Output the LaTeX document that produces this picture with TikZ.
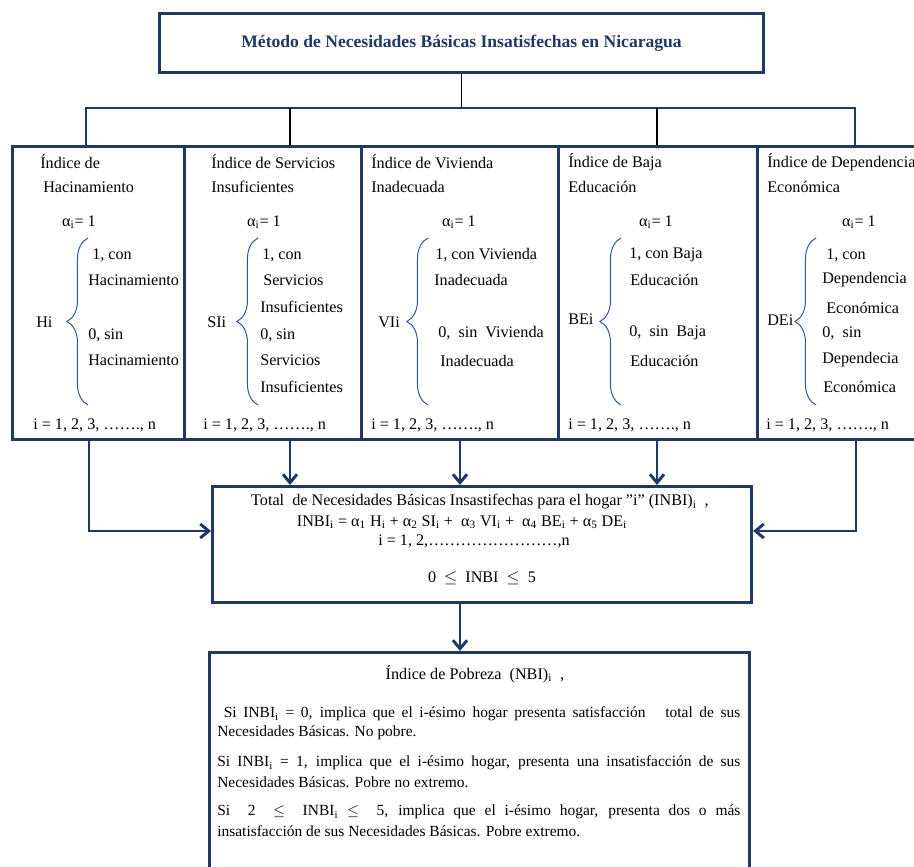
\documentclass[tikz,border=0pt]{standalone}
\usepackage{fontspec}
\setmainfont{Liberation Serif}
\usetikzlibrary{positioning,calc,arrows.meta,decorations.pathreplacing}
\definecolor{nbiblue}{RGB}{31,56,100}
\definecolor{llaveazul}{RGB}{47,85,151}
\tikzset{
	box/.style = {draw=nbiblue, line width=2.1pt, rectangle, inner sep=0pt, anchor=north west},
	txt/.style = {anchor=west, inner sep=0pt, font=\fontsize{11.5}{13.5}\selectfont},
	ctxt/.style = {inner sep=0pt, font=\fontsize{11.5}{13.5}\selectfont},
	ptxt/.style = {anchor=west, inner sep=0pt, font=\fontsize{11}{13}\selectfont},
	link/.style = {draw=black, line width=1.3pt},
	bus/.style = {draw=nbiblue, line width=2.1pt},
	arr/.style = {draw=nbiblue, line width=2.1pt, -{Straight Barb[length=6pt,width=10pt]}},
	llave/.style = {draw=llaveazul, line width=0.7pt, decorate, decoration={brace, amplitude=15pt}}
}
\begin{document}
\begin{tikzpicture}[x=0.025cm, y=-0.025cm]
	\clip (0,0) rectangle (914,867);

	% titulo y bloques
	\node [box, minimum width=15.1cm, minimum height=1.475cm, text=nbiblue,
	font=\fontsize{12.5}{14}\selectfont\bfseries] (titulo) at (158,12)
	{Método de Necesidades Básicas Insatisfechas en Nicaragua};
	\node [box, minimum width=4.3cm, minimum height=7.325cm] (hac) at (11,145) {};
	\node [box, minimum width=4.425cm, minimum height=7.325cm] (serv) at (183,145) {};
	\node [box, minimum width=4.925cm, minimum height=7.325cm] (viv) at (360,145) {};
	\node [box, minimum width=4.975cm, minimum height=7.325cm] (edu) at (557,145) {};
	\node [box, minimum width=4.5cm, minimum height=7.325cm] (dep) at (756,145) {};
	\node [box, minimum width=13.475cm, minimum height=2.9cm] (total) at (211,485) {};
	\node [box, minimum width=13.5cm, minimum height=5.75cm] (pobreza) at (208,651) {};

	% conexiones de arriba
	\coordinate (busL) at (86,108);
	\coordinate (busR) at (855,108);
	\coordinate (d2) at (290,108);
	\coordinate (d4) at (657,108);
	\draw [link] (titulo.south) -- (titulo.south |- busL);
	\draw [bus] (busL |- hac.north) -- (busL) -- (busR) -- (busR |- dep.north);
	\draw [link] (d2) -- (d2 |- serv.north);
	\draw [link] (d4) -- (d4 |- edu.north);

	% Hacinamiento
	\node [txt] (h1) at (40,162) {Índice de};
	\node [txt] (h2) at (43,187) {Hacinamiento};
	\node [ctxt] (ha) at (79,222) {α\textsubscript{i}= 1};
	\node [txt] (hl) at (36,322) {Hi};
	\draw [llave] (88,405) -- (88,238);
	\node [txt] (hc1) at (92,255) {1, con};
	\node [txt] (hc2) at (88,280) {Hacinamiento};
	\node [txt] (hc3) at (88,335) {0, sin};
	\node [txt] (hc4) at (88,360) {Hacinamiento};
	\node [txt] (hn) at (33,425) {i = 1, 2, 3, ……., n};

	% Servicios
	\node [txt] (s1) at (211,162) {Índice de Servicios};
	\node [txt] (s2) at (211,187) {Insuficientes};
	\node [ctxt] (sa) at (264,222) {α\textsubscript{i}= 1};
	\node [txt] (sl) at (207,322) {SIi};
	\draw [llave] (258,405) -- (258,238);
	\node [txt] (sc1) at (262,255) {1, con};
	\node [txt] (sc2) at (263,280) {Servicios};
	\node [txt] (sc3) at (260,307) {Insuficientes};
	\node [txt] (sc4) at (260,335) {0, sin};
	\node [txt] (sc5) at (260,360) {Servicios};
	\node [txt] (sc6) at (260,387) {Insuficientes};
	\node [txt] (sn) at (203,425) {i = 1, 2, 3, ……., n};

	% Vivienda
	\node [txt] (v1) at (371,162) {Índice de Vivienda};
	\node [txt] (v2) at (371,187) {Inadecuada};
	\node [ctxt] (va) at (459,222) {α\textsubscript{i}= 1};
	\node [txt] (vl) at (378,322) {VIi};
	\draw [llave] (428,405) -- (428,238);
	\node [txt] (vc1) at (435,255) {1, con Vivienda};
	\node [txt] (vc2) at (434,280) {Inadecuada};
	\node [txt] (vc3) at (438,333) {0,\ \ sin\ \ Vivienda};
	\node [txt] (vc4) at (440,361) {Inadecuada};
	\node [txt] (vn) at (371,425) {i = 1, 2, 3, ……., n};

	% Educacion
	\node [txt] (e1) at (568,162) {Índice de Baja};
	\node [txt] (e2) at (568,187) {Educación};
	\node [ctxt] (ea) at (656,222) {α\textsubscript{i}= 1};
	\node [txt] (el) at (568,319) {BEi};
	\draw [llave] (621,405) -- (621,238);
	\node [txt] (ec1) at (629,255) {1, con Baja};
	\node [txt] (ec2) at (630,280) {Educación};
	\node [txt] (ec3) at (629,333) {0,\ \ sin\ \ Baja};
	\node [txt] (ec4) at (630,361) {Educación};
	\node [txt] (en) at (568,425) {i = 1, 2, 3, ……., n};

	% Dependencia
	\node [txt] (p1) at (767,162) {Índice de Dependencia};
	\node [txt] (p2) at (767,187) {Económica};
	\node [ctxt] (pa) at (859,222) {α\textsubscript{i}= 1};
	\node [txt] (pl) at (767,320) {DEi};
	\draw [llave] (816,405) -- (816,238);
	\node [txt] (pc1) at (826,255) {1, con};
	\node [txt] (pc2) at (822,280) {Dependencia};
	\node [txt] (pc3) at (826,308) {Económica};
	\node [txt] (pc4) at (822,333) {0,\ \ sin};
	\node [txt] (pc5) at (822,360) {Dependecia};
	\node [txt] (pc6) at (823,387) {Económica};
	\node [txt] (pn) at (766,425) {i = 1, 2, 3, ……., n};

	% total
	\node [ctxt] (t1) at (480,502) {Total\ \ de Necesidades Básicas Insastifechas para el hogar "i" (INBI)\textsubscript{i}\ \ ,};
	\node [ctxt] (t2) at (462,522) {INBI\textsubscript{i} = α\textsubscript{1} H\textsubscript{i} + α\textsubscript{2} SI\textsubscript{i} + \ α\textsubscript{3} VI\textsubscript{i} + \ α\textsubscript{4} BE\textsubscript{i} + α\textsubscript{5} DE\textsubscript{i}};
	\node [ctxt] (t3) at (474,541) {i = 1, 2,……………………,n};
	\node [ctxt] (t4) at (482,578) {0 \ $\leq$\ \ INBI \ $\leq$\ \ 5};

	% flechas
	\coordinate (a1) at (89,531);
	\coordinate (a5) at (856,531);
	\draw [arr] (a1 |- hac.south) -- (a1) -- (a1 -| total.west);
	\draw [arr] (a5 |- dep.south) -- (a5) -- (a5 -| total.east);
	\draw [arr] (d2 |- serv.south) -- (d2 |- total.north);
	\draw [arr] (viv.south) -- (viv.south |- total.north);
	\draw [arr] (d4 |- edu.south) -- (d4 |- total.north);
	\draw [arr] (viv.south |- total.south) -- (viv.south |- pobreza.north);

	% pobreza
	\node [ctxt] (b0) at (475,674) {Índice de Pobreza\ \ (NBI)\textsubscript{i}\ \ ,};
	\node [ptxt] (b1) at (217,714) {\makebox[13.075cm][s]{\ Si INBI\textsubscript{i} = 0, implica que el i-ésimo hogar presenta satisfacción\ \ \ total de sus}};
	\node [ptxt] (b2) at (217,733) {Necesidades Básicas. No pobre.};
	\node [ptxt] (b3) at (217,763) {\makebox[13.075cm][s]{Si INBI\textsubscript{i} = 1, implica que el i-ésimo hogar, presenta una insatisfacción de sus}};
	\node [ptxt] (b4) at (217,782) {Necesidades Básicas. Pobre no extremo.};
	\node [ptxt] (b5) at (217,812) {\makebox[13.075cm][s]{Si\ \ 2\ \ $\leq$\ \ INBI\textsubscript{i} $\leq$\ \ 5, implica que el i-ésimo hogar, presenta dos o más}};
	\node [ptxt] (b6) at (217,831) {insatisfacción de sus Necesidades Básicas. Pobre extremo.};
\end{tikzpicture}
\end{document}
